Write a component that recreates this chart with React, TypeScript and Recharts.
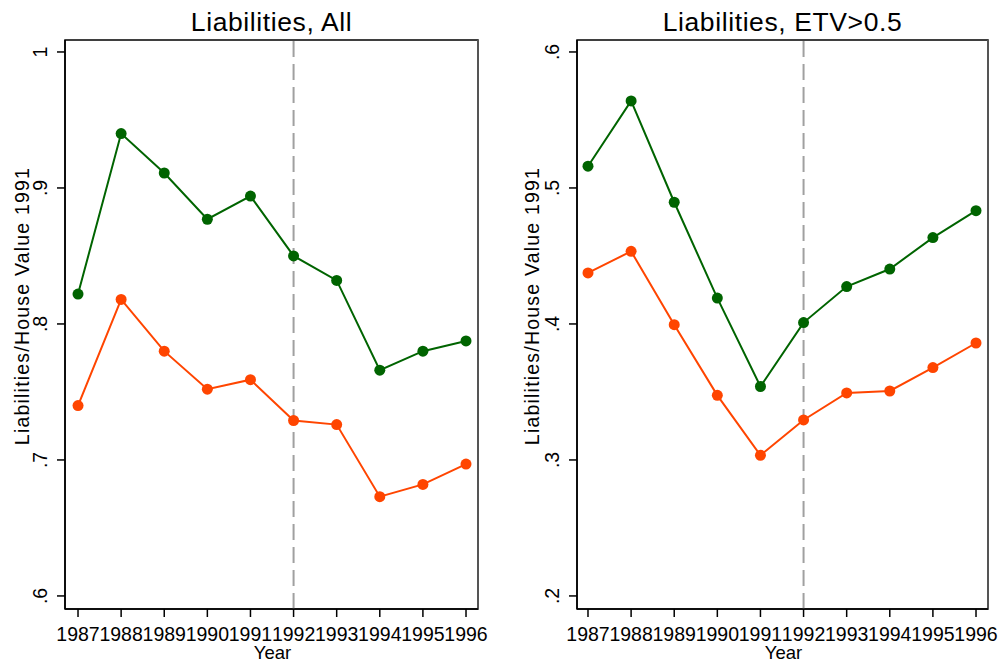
import React from 'react';
import { LineChart, Line, XAxis, YAxis, ReferenceLine, ReferenceArea } from 'recharts';

const years = [1987, 1988, 1989, 1990, 1991, 1992, 1993, 1994, 1995, 1996];
const allGreen = [0.822, 0.94, 0.911, 0.877, 0.894, 0.85, 0.832, 0.766, 0.78, 0.7875];
const allOrange = [0.74, 0.818, 0.78, 0.752, 0.759, 0.729, 0.726, 0.673, 0.682, 0.697];
const etvGreen = [0.516, 0.564, 0.4895, 0.419, 0.354, 0.401, 0.4275, 0.4404, 0.4635, 0.4833];
const etvOrange = [0.4375, 0.4534, 0.3995, 0.3475, 0.3034, 0.3294, 0.3493, 0.3507, 0.3679, 0.386];
const allTicks = [0.6, 0.7, 0.8, 0.9, 1];
const etvTicks = [0.2, 0.3, 0.4, 0.5, 0.6];
const cutYear = 1992;
const yTitle = 'Liabilities/House Value 1991';
const xTitle = 'Year';
const titleAll = 'Liabilities, All';
const titleEtv = 'Liabilities, ETV>0.5';

const FONT = '"Liberation Sans", Arial, Helvetica, sans-serif';
const GREEN = '#006400';
const ORANGE = '#ff4500';

const fmt = (v: number) => (v >= 1 ? String(v) : v.toFixed(1).replace(/^0/, ''));

const XTick = (props: any) => {
  const { x, y, payload } = props;
  return (
    <text x={x} y={y} dy="0.71em" textAnchor="middle" fontSize={19.5} fontFamily={FONT} fill="#000">
      {payload.value}
    </text>
  );
};

const YTick = (props: any) => {
  const { x, y, payload } = props;
  return (
    <text
      x={x}
      y={y}
      transform={`rotate(-90, ${x}, ${y})`}
      textAnchor="middle"
      dominantBaseline="central"
      fontSize={19.5}
      fontFamily={FONT}
      fill="#000"
    >
      {fmt(payload.value)}
    </text>
  );
};

type PanelProps = {
  left: number;
  width: number;
  marginLeft: number;
  marginRight: number;
  title: string;
  green: number[];
  orange: number[];
  ticks: number[];
  xDomain: [number, number];
  yDomain: [number, number];
  yLabelCenter: number;
};

const Panel = (p: PanelProps) => {
  const data = years.map((yr, i) => ({ year: yr, green: p.green[i], orange: p.orange[i] }));
  const plotLeft = p.marginLeft + 60;
  const plotRight = p.width - p.marginRight;
  const cx = (plotLeft + plotRight) / 2;
  return (
    <div style={{ position: 'absolute', left: p.left, top: 0, width: p.width, height: 666 }}>
      <div
        style={{
          position: 'absolute',
          left: cx - 200,
          width: 400,
          top: 9,
          textAlign: 'center',
          fontFamily: FONT,
          fontSize: 26.5,
          lineHeight: '26px',
          letterSpacing: 0.6,
          color: '#000',
          whiteSpace: 'nowrap',
        }}
      >
        {p.title}
      </div>
      <LineChart
        width={p.width}
        height={666}
        data={data}
        margin={{ top: 40, right: p.marginRight, bottom: 0, left: p.marginLeft }}
      >
        <XAxis
          dataKey="year"
          type="number"
          domain={p.xDomain}
          ticks={years}
          allowDataOverflow
          interval={0}
          height={57}
          tickSize={8}
          tickMargin={10}
          axisLine={{ stroke: '#000', strokeWidth: 1.5 }}
          tickLine={{ stroke: '#000', strokeWidth: 1.5 }}
          tick={<XTick />}
          label={{
            content: (lp: any) => {
              const vb = lp.viewBox;
              return (
                <text
                  x={vb.x + vb.width / 2 + 1}
                  y={vb.y + 50}
                  textAnchor="middle"
                  fontSize={18.5}
                  fontFamily={FONT}
                  fill="#000"
                >
                  {xTitle}
                </text>
              );
            },
          }}
        />
        <YAxis
          type="number"
          domain={p.yDomain}
          ticks={p.ticks}
          allowDataOverflow
          interval={0}
          width={60}
          tickSize={8}
          tickMargin={16.5}
          axisLine={{ stroke: '#000', strokeWidth: 1.5 }}
          tickLine={{ stroke: '#000', strokeWidth: 1.5 }}
          tick={<YTick />}
          label={{
            content: (lp: any) => {
              const vb = lp.viewBox;
              const x = vb.x + 60 - p.yLabelCenter;
              const y = 306;
              return (
                <text
                  x={x}
                  y={y}
                  transform={`rotate(-90, ${x}, ${y})`}
                  textAnchor="middle"
                  dominantBaseline="central"
                  fontSize={19.5}
                  letterSpacing={1.2}
                  fontFamily={FONT}
                  fill="#000"
                >
                  {yTitle}
                </text>
              );
            },
          }}
        />
        <ReferenceArea
          x1={p.xDomain[0]}
          x2={p.xDomain[1]}
          y1={p.yDomain[0]}
          y2={p.yDomain[1]}
          fill="none"
          fillOpacity={0}
          stroke="#000"
          strokeWidth={1.5}
        />
        <ReferenceLine x={p.xDomain[1]} stroke="#555" strokeWidth={2} />
        <ReferenceLine x={cutYear} stroke="#a0a0a0" strokeWidth={2} strokeDasharray="16 7" />
        <Line
          dataKey="green"
          stroke={GREEN}
          strokeWidth={2}
          dot={{ r: 5.5, fill: GREEN, stroke: GREEN, strokeWidth: 0 }}
          isAnimationActive={false}
        />
        <Line
          dataKey="orange"
          stroke={ORANGE}
          strokeWidth={2}
          dot={{ r: 5.5, fill: ORANGE, stroke: ORANGE, strokeWidth: 0 }}
          isAnimationActive={false}
        />
      </LineChart>
    </div>
  );
}
;

export default function App() {
  return (
    <div style={{ position: 'absolute', left: 0, top: 0, width: 1003, height: 666, background: '#fff' }}>
      <Panel
        left={0}
        width={500}
        marginLeft={5}
        marginRight={22}
        title={titleAll}
        green={allGreen}
        orange={allOrange}
        ticks={allTicks}
        xDomain={[1986.698, 1996.278]}
        yDomain={[0.5904, 1.0088]}
        yLabelCenter={43}
      />
      <Panel
        left={500}
        width={503}
        marginLeft={17}
        marginRight={15}
        title={titleEtv}
        green={etvGreen}
        orange={etvOrange}
        ticks={etvTicks}
        xDomain={[1986.745, 1996.278]}
        yDomain={[0.1904, 0.6088]}
        yLabelCenter={45}
      />
    </div>
  );
}
